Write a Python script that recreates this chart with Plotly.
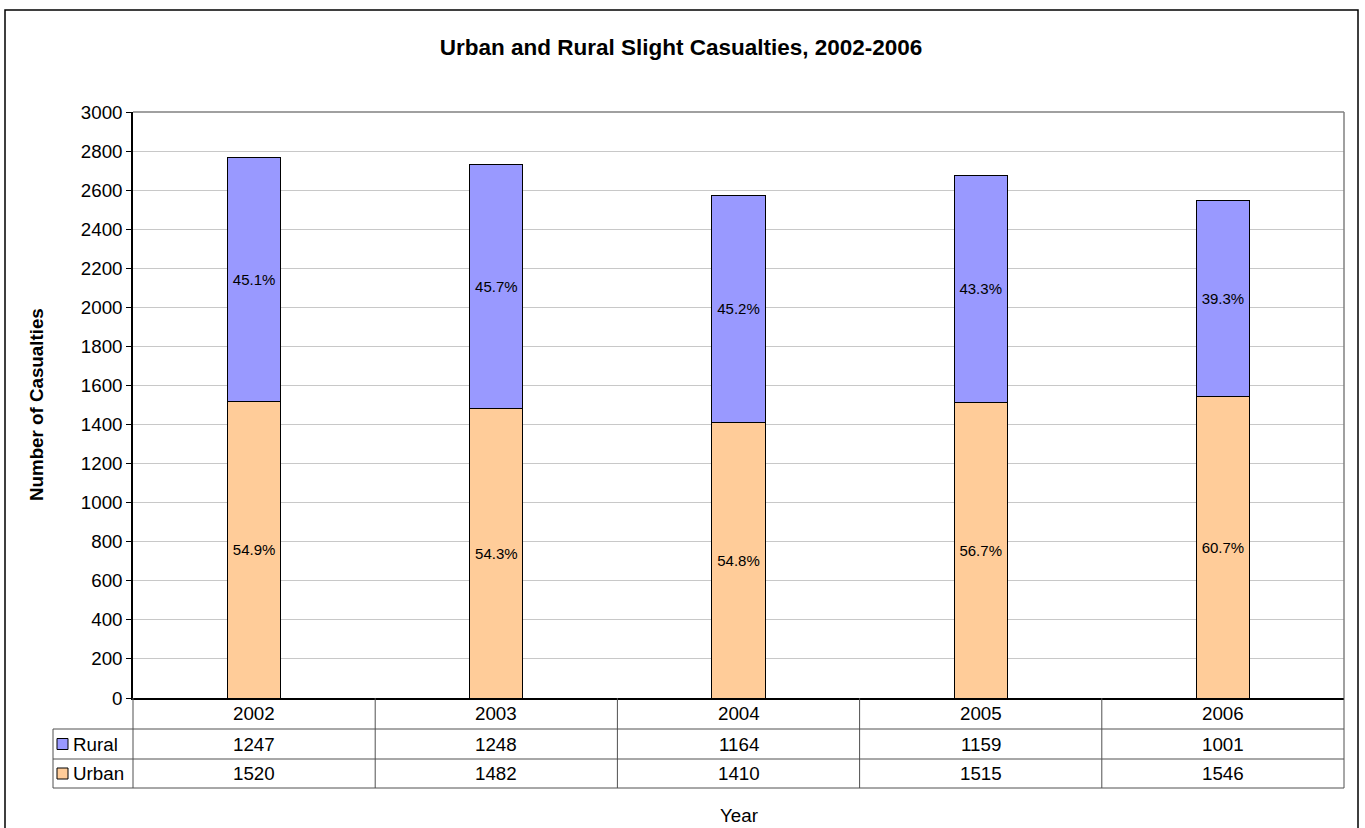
import plotly.graph_objects as go

# Slight casualties by area type, 2002-2006
years = ["2002", "2003", "2004", "2005", "2006"]
rural = [1247, 1248, 1164, 1159, 1001]
urban = [1520, 1482, 1410, 1515, 1546]

totals = [r + u for r, u in zip(rural, urban)]
rural_pct = [f"{100 * r / t:.1f}%" for r, t in zip(rural, totals)]
urban_pct = [f"{100 * u / t:.1f}%" for u, t in zip(urban, totals)]

FONT = "Arial, Liberation Sans, sans-serif"
RURAL_COLOR = "#9999FF"
URBAN_COLOR = "#FFCC99"

W, H = 1365, 828
PLOT_L, PLOT_R, PLOT_T, PLOT_B = 133, 1344, 112, 698


def px(x):
    """Pixel x -> paper x."""
    return (x - PLOT_L) / (PLOT_R - PLOT_L)


def py(y):
    """Pixel y -> paper y."""
    return (PLOT_B - y) / (PLOT_B - PLOT_T)


fig = go.Figure()
fig.add_trace(go.Bar(
    x=years, y=urban, name="Urban", text=urban_pct,
    marker=dict(color=URBAN_COLOR, line=dict(color="black", width=1)),
    width=0.22, textposition="inside", insidetextanchor="middle",
    textangle=0, constraintext="none",
    textfont=dict(family=FONT, size=15, color="black"),
))
fig.add_trace(go.Bar(
    x=years, y=rural, name="Rural", text=rural_pct,
    marker=dict(color=RURAL_COLOR, line=dict(color="black", width=1)),
    width=0.22, textposition="inside", insidetextanchor="middle",
    textangle=0, constraintext="none",
    textfont=dict(family=FONT, size=15, color="black"),
))

shapes = []
annotations = []

# outer chart frame
shapes.append(dict(type="rect", xref="paper", yref="paper",
                   x0=px(5), x1=px(1358), y0=py(840), y1=py(10),
                   line=dict(color="black", width=1.5), layer="below"))
# plot-area border (top and right)
shapes.append(dict(type="line", xref="paper", yref="paper",
                   x0=0, x1=1, y0=1, y1=1, line=dict(color="#808080", width=1.5)))
shapes.append(dict(type="line", xref="paper", yref="paper",
                   x0=1, x1=1, y0=0, y1=1, line=dict(color="#808080", width=1.5)))

# data table beneath the axis
n = len(years)
row_edges = [PLOT_B, 729, 759, 788]
TABLE_LINE = dict(color="#505050", width=1)
left_col = 53
# horizontal rules
shapes.append(dict(type="line", xref="paper", yref="paper",
                   x0=px(left_col), x1=1, y0=py(row_edges[1]), y1=py(row_edges[1]), line=TABLE_LINE))
shapes.append(dict(type="line", xref="paper", yref="paper",
                   x0=px(left_col), x1=1, y0=py(row_edges[2]), y1=py(row_edges[2]), line=TABLE_LINE))
shapes.append(dict(type="line", xref="paper", yref="paper",
                   x0=px(left_col), x1=1, y0=py(row_edges[3]), y1=py(row_edges[3]), line=TABLE_LINE))
# vertical rules at category boundaries
for k in range(n + 1):
    xk = k / n
    shapes.append(dict(type="line", xref="paper", yref="paper",
                       x0=xk, x1=xk, y0=py(row_edges[0]), y1=py(row_edges[3]), line=TABLE_LINE))
shapes.append(dict(type="line", xref="paper", yref="paper",
                   x0=px(left_col), x1=px(left_col), y0=py(row_edges[1]), y1=py(row_edges[3]),
                   line=TABLE_LINE))

row_mid = [(row_edges[i] + row_edges[i + 1]) / 2 for i in range(3)]
cell_font = dict(family=FONT, size=18.75, color="black")
for i, yr in enumerate(years):
    xc = (i + 0.5) / n
    for val, ym in ((yr, row_mid[0]), (str(rural[i]), row_mid[1]), (str(urban[i]), row_mid[2])):
        annotations.append(dict(xref="paper", yref="paper", x=xc, y=py(ym), text=val,
                                showarrow=False, font=cell_font,
                                xanchor="center", yanchor="middle"))

# legend keys in the table's first column
for label, color, ym in (("Rural", RURAL_COLOR, row_mid[1]), ("Urban", URBAN_COLOR, row_mid[2])):
    shapes.append(dict(type="rect", xref="paper", yref="paper",
                       x0=px(57), x1=px(68), y0=py(ym + 5.5), y1=py(ym - 5.5),
                       fillcolor=color, line=dict(color="black", width=1)))
    annotations.append(dict(xref="paper", yref="paper", x=px(71), y=py(ym), text=label,
                            showarrow=False, font=cell_font,
                            xanchor="left", yanchor="middle"))

# axis titles
annotations.append(dict(xref="paper", yref="paper", x=px(36), y=0.5,
                        text="<b>Number of Casualties</b>", textangle=-90,
                        showarrow=False, font=dict(family=FONT, size=18.75, color="black"),
                        xanchor="center", yanchor="middle"))
annotations.append(dict(xref="paper", yref="paper", x=0.5, y=py(815), text="Year",
                        showarrow=False, font=dict(family=FONT, size=18.75, color="black"),
                        xanchor="center", yanchor="middle"))

fig.update_layout(
    width=W, height=H,
    margin=dict(l=PLOT_L, r=W - PLOT_R, t=PLOT_T, b=H - PLOT_B),
    paper_bgcolor="white", plot_bgcolor="white",
    barmode="stack", showlegend=False,
    title=dict(text="<b>Urban and Rural Slight Casualties, 2002-2006</b>",
               x=681 / W, xref="container", xanchor="center",
               y=1 - 47 / H, yref="container", yanchor="middle",
               font=dict(family=FONT, size=22.5, color="black")),
    xaxis=dict(type="category", range=[-0.5, n - 0.5], showticklabels=False,
               showgrid=False, showline=True, linecolor="black", linewidth=1.5,
               ticks="", zeroline=False),
    yaxis=dict(range=[0, 3000], dtick=200, tick0=0, showline=True, linecolor="black",
               linewidth=1.5, ticks="outside", ticklen=5, tickcolor="black",
               showgrid=True, gridcolor="#C8C8C8", gridwidth=1, zeroline=False,
               tickfont=dict(family=FONT, size=18.75, color="black")),
    shapes=shapes, annotations=annotations,
    font=dict(family=FONT, color="black"),
)

fig.write_html("out.html")
